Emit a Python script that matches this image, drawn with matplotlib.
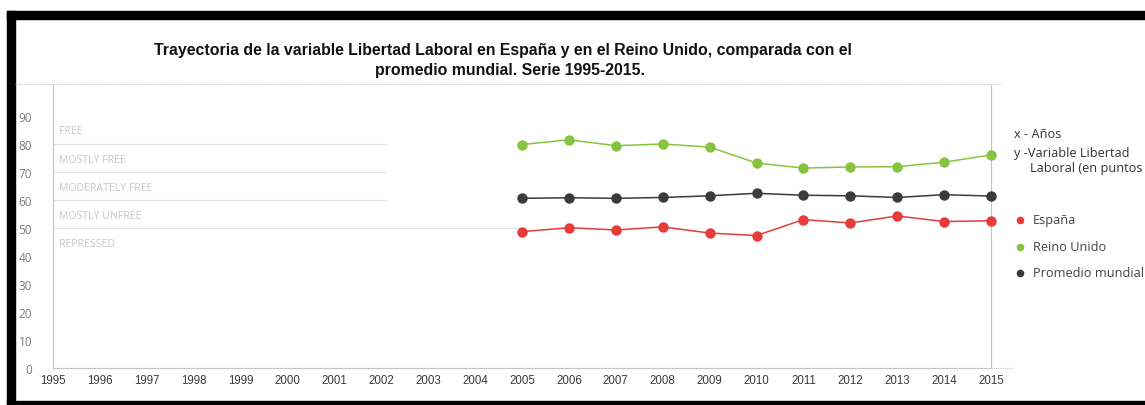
import matplotlib.pyplot as plt
from matplotlib.lines import Line2D
from matplotlib.patches import Rectangle

years = list(range(1995, 2016))
anios_datos = list(range(2005, 2016))

espana = [48.7, 50.1, 49.3, 50.4, 48.2, 47.3, 53.0, 51.8, 54.3, 52.3, 52.6]
reino_unido = [79.8, 81.5, 79.4, 80.0, 78.9, 73.2, 71.4, 71.8, 71.9, 73.5, 76.1]
promedio = [60.6, 60.8, 60.6, 60.9, 61.5, 62.4, 61.7, 61.5, 60.9, 61.9, 61.4]

yticks = [0, 10, 20, 30, 40, 50, 60, 70, 80, 90]
bandas = ['FREE', 'MOSTLY FREE', 'MODERATELY FREE', 'MOSTLY UNFREE', 'REPRESSED']
bandas_y = [85, 74.3, 64.3, 54.6, 44.6]
limites = [80, 70, 60, 50]

series = [
    ('España', espana, '#e63b3b'),
    ('Reino Unido', reino_unido, '#86c440'),
    ('Promedio mundial', promedio, '#3b3b3d'),
]

W, H = 1145, 406
fig = plt.figure(figsize=(W / 100, H / 100), dpi=100)

def fx(px):
    return px / W

def fy(py):
    return 1 - py / H

# marco negro
fig.patches.append(Rectangle((fx(7), fy(406)), fx(8), fy(12) - fy(406), transform=fig.transFigure,
                             color='black', zorder=0))
fig.patches.append(Rectangle((fx(7), fy(20)), 1, fy(12) - fy(20), transform=fig.transFigure,
                             color='black', zorder=0))
fig.patches.append(Rectangle((fx(7), fy(406)), 1, fy(402) - fy(406), transform=fig.transFigure,
                             color='black', zorder=0))

ax_l, ax_r, ax_t, ax_b = 53, 991, 85, 369
ax = fig.add_axes([fx(ax_l), fy(ax_b), fx(ax_r - ax_l), fy(ax_t) - fy(ax_b)])
ax.set_xlim(1995, 2015)
ax.set_ylim(0, (ax_b - ax_t) / 2.8)

ax.spines['top'].set_visible(False)
for s in ['left', 'right', 'bottom']:
    ax.spines[s].set_color('#c4c4c4')
    ax.spines[s].set_linestyle((0, (1, 1)))
    ax.spines[s].set_linewidth(0.8)

# prolongación del eje x
ax.add_line(Line2D([1.0, (1012 - ax_l) / (ax_r - ax_l)], [0, 0], transform=ax.transAxes,
                   color='#c4c4c4', lw=0.8, ls=(0, (1, 1)), clip_on=False))

# línea punteada bajo el título
fig.add_artist(Line2D([fx(15), fx(1000)], [fy(85), fy(85)], color='#c4c4c4', lw=0.8,
                      ls=(0, (1, 1))))

ax.set_xticks(years)
ax.set_xticklabels([str(a) for a in years], fontsize=8.3, color='#3a3a3a',
                   family='Liberation Sans')
ax.set_yticks(yticks)
ax.set_yticklabels([str(v) for v in yticks], fontsize=8.5, color='#7a7a7a',
                   family='Open Sans')
ax.tick_params(axis='x', length=0, pad=4)
ax.tick_params(axis='y', length=0, pad=15)

# franjas de clasificación
for v in limites:
    fin = 2005 if v == 50 else 2002.1
    ax.plot([1995, fin], [v, v], color='#e6e6e6', lw=0.8, zorder=1)
for nombre, yv in zip(bandas, bandas_y):
    ax.text(1995.12, yv, nombre, fontsize=7.6, color='#c6c6c6', family='Open Sans',
            va='center', ha='left')

for nombre, vals, color in series:
    ax.plot(anios_datos, vals, color=color, lw=1.1, marker='o', markersize=7.5,
            markeredgewidth=0, clip_on=False, zorder=3)

fig.text(fx(503), fy(51), 'Trayectoria de la variable Libertad Laboral en España y en el Reino Unido, comparada con el',
         ha='center', va='center', fontsize=11.4, fontweight='bold', family='Liberation Sans',
         color='#111111')
fig.text(fx(510), fy(71), 'promedio mundial. Serie 1995-2015.',
         ha='center', va='center', fontsize=11.4, fontweight='bold', family='Liberation Sans',
         color='#111111')

# leyenda
fig.text(fx(1014), fy(135), 'x - Años', fontsize=9.2, color='#333333', family='Open Sans',
         va='center', ha='left')
fig.text(fx(1014), fy(153), 'y -Variable Libertad', fontsize=9.2, color='#333333',
         family='Open Sans', va='center', ha='left')
fig.text(fx(1030), fy(169), 'Laboral (en puntos', fontsize=9.2, color='#333333',
         family='Open Sans', va='center', ha='left')

for k, (nombre, vals, color) in enumerate(series):
    ypx = 221 + k * 26.5
    fig.add_artist(Line2D([fx(1020)], [fy(ypx)], marker='o', markersize=5.5, color=color,
                          markeredgewidth=0))
    fig.text(fx(1033), fy(ypx), nombre, fontsize=9.2, color='#444444', family='Open Sans',
             va='center', ha='left')

fig.savefig('out.png', dpi=100)
